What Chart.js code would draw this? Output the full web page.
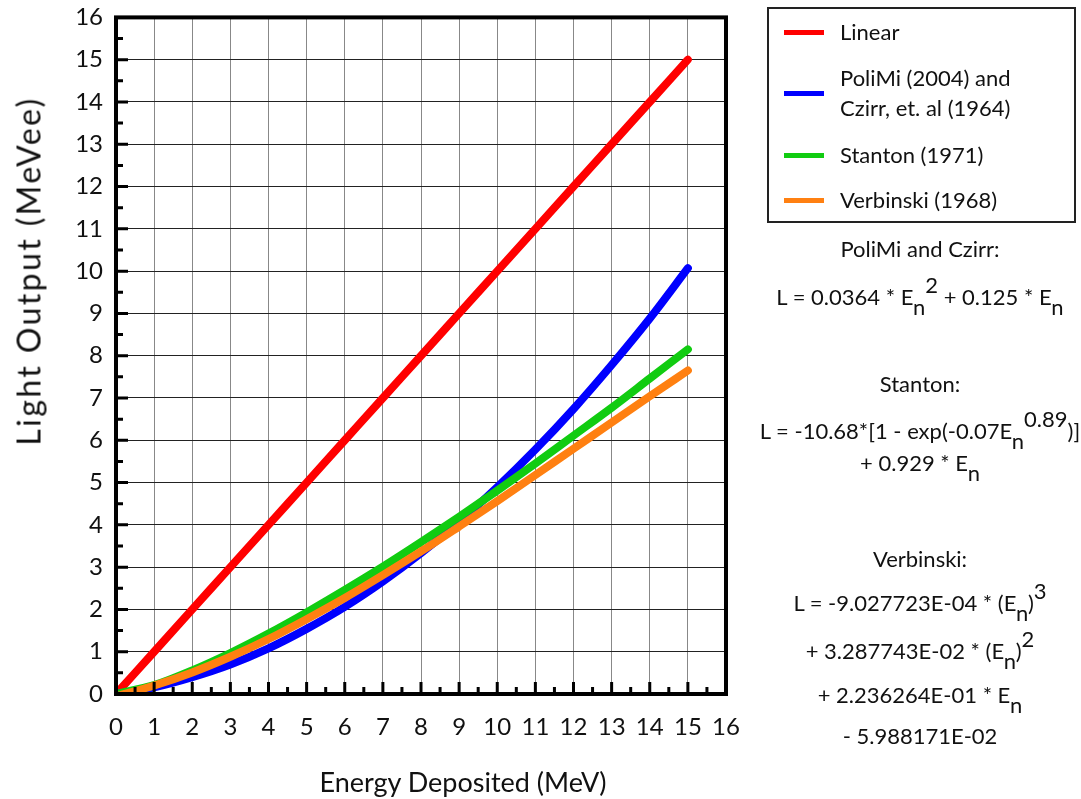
<!DOCTYPE html>
<html>
<head>
<meta charset="utf-8">
<script src="https://cdn.jsdelivr.net/npm/chart.js@4.4.0/dist/chart.umd.min.js"></script>
<style>
  body { margin:0; background:#fff; font-family: Lato, "Open Sans", sans-serif; color:#111; }
  #wrap { position:relative; width:1081px; height:799px; overflow:hidden; }
  #myChart { position:absolute; left:0; top:-10px; }
  #ytitle { position:absolute; left:28px; top:271px; transform:translate(-50%,-50%) rotate(-90deg); font-size:32px; letter-spacing:2.4px; white-space:nowrap; }
  #xtitle { position:absolute; left:463px; top:781px; transform:translate(-50%,-50%); font-size:27px; white-space:nowrap; }
  #legend { position:absolute; left:767px; top:7px; width:309px; height:216px; border:2px solid #222; box-sizing:border-box; }
  .item { position:absolute; left:15px; font-size:22px; line-height:30px; }
  .item i { position:absolute; left:0; width:40px; height:5px; }
  .item span { position:absolute; left:56px; white-space:nowrap; }
  .eq { position:absolute; left:920px; transform:translate(-50%,-50%); font-size:22px; white-space:nowrap; }
  .eq sub { position:relative; top:10px; vertical-align:baseline; font-size:22px; }
  .eq sup { position:relative; top:-12px; vertical-align:baseline; font-size:22px; }
</style>
</head>
<body>
<div id="wrap">
  <canvas id="myChart" width="1081" height="799"></canvas>
  <div id="ytitle">Light Output (MeVee)</div>
  <div id="xtitle">Energy Deposited (MeV)</div>
  <div id="legend"></div>

  <div class="eq" style="top:248px">PoliMi and Czirr:</div>
  <div class="eq" style="top:296px">L = 0.0364 * E<sub>n</sub><sup>2</sup> + 0.125 * E<sub>n</sub></div>

  <div class="eq" style="top:383px">Stanton:</div>
  <div class="eq" style="top:430px">L = -10.68*[1 - exp(-0.07E<sub>n</sub><sup>0.89</sup>)]</div>
  <div class="eq" style="top:462px">+ 0.929 * E<sub>n</sub></div>

  <div class="eq" style="top:558px">Verbinski:</div>
  <div class="eq" style="top:602px">L = -9.027723E-04 * (E<sub>n</sub>)<sup>3</sup></div>
  <div class="eq" style="top:650px">+ 3.287743E-02 * (E<sub>n</sub>)<sup>2</sup></div>
  <div class="eq" style="top:694px">+ 2.236264E-01 * E<sub>n</sub></div>
  <div class="eq" style="top:735px">- 5.988171E-02</div>
</div>

<script>
// energy deposited (MeV)
const energy = [0,1,2,3,4,5,6,7,8,9,10,11,12,13,14,15];
// light output (MeVee) for each response model
const linear = [0,1,2,3,4,5,6,7,8,9,10,11,12,13,14,15];
const polimi = [0,0.16,0.40,0.70,1.08,1.54,2.06,2.66,3.33,4.07,4.89,5.78,6.74,7.78,8.88,10.07];
const stanton = [0,0.21,0.56,0.97,1.43,1.93,2.46,3.01,3.59,4.19,4.81,5.45,6.11,6.77,7.46,8.15];
const verbinski = [-0.06,0.20,0.51,0.88,1.30,1.77,2.27,2.81,3.37,3.96,4.56,5.18,5.80,6.42,7.04,7.65];

const xTicks = [0,1,2,3,4,5,6,7,8,9,10,11,12,13,14,15,16];
const yTicks = [0,1,2,3,4,5,6,7,8,9,10,11,12,13,14,15,16];

const seriesNames = ['Linear', 'PoliMi (2004) and\nCzirr, et. al (1964)', 'Stanton (1971)', 'Verbinski (1968)'];
const seriesColors = ['#ff0000', '#0000ff', '#11cc11', '#ff8011'];

function pts(ys){
    return energy.map((x,i) => ({x:x, y:ys[i]}));
}

// inward tick marks plus the heavy frame around the plot
const frame = {
    id:'frame',
    afterDatasetsDraw(chart){
        const ctx = chart.ctx;
        const a = chart.chartArea;
        const xs = chart.scales.x, ys = chart.scales.y;
        ctx.save();
        ctx.strokeStyle = '#000';
        ctx.lineWidth = 3;
        ctx.beginPath();
        for (let v = 0.5; v < 16; v += 0.5) {
            const len = Number.isInteger(v) ? 12 : 7;
            const px = xs.getPixelForValue(v);
            ctx.moveTo(px, a.bottom); ctx.lineTo(px, a.bottom - len);
            const py = ys.getPixelForValue(v);
            ctx.moveTo(a.left, py); ctx.lineTo(a.left + len, py);
        }
        ctx.stroke();
        ctx.lineWidth = 4;
        ctx.strokeRect(a.left, a.top, a.right - a.left, a.bottom - a.top);
        ctx.restore();
    }
};

const datasets = [linear, polimi, stanton, verbinski].map((vals, i) => ({
    label: seriesNames[i],
    data: pts(vals),
    showLine: true,
    borderColor: seriesColors[i],
    backgroundColor: seriesColors[i],
    borderWidth: 8,
    borderCapStyle: 'round',
    pointRadius: 0,
    cubicInterpolationMode: 'monotone',
    order: [3, 2, 1, 0][i],
}));

var ctx = document.getElementById('myChart');
var myChart = new Chart(ctx, {
    type: 'scatter',
    data: { datasets: datasets },
    options: {
        responsive: false,
        animation: false,
        layout: { padding: { top: 4, right: 355, left: 0, bottom: 0 } },
        plugins: { legend: { display: false }, tooltip: { enabled: false } },
        scales: {
            x: {
                type: 'linear', min: 0, max: 16,
                afterFit(s){ s.height = 95; },
                afterBuildTicks(s){ s.ticks = xTicks.map(v => ({value: v})); },
                grid: { color: '#888', lineWidth: 1, drawTicks: false },
                border: { display: false },
                ticks: { color: '#111', padding: 19, font: { family: 'Lato', size: 24 }, maxRotation: 0, autoSkip: false }
            },
            y: {
                type: 'linear', min: 0, max: 16,
                afterFit(s){ s.width = 116; },
                afterBuildTicks(s){ s.ticks = yTicks.map(v => ({value: v})); },
                grid: { color: '#222', lineWidth: 1, drawTicks: false },
                border: { display: false },
                ticks: { color: '#111', padding: 13, font: { family: 'Lato', size: 24 }, autoSkip: false }
            }
        }
    },
    plugins: [frame]
});

// legend box built from the same series
const legendTops = [8, 54, 131, 176];
const legendBox = document.getElementById('legend');
seriesNames.forEach((name, i) => {
    const lines = name.split('\n');
    const row = document.createElement('div');
    row.className = 'item';
    row.style.top = legendTops[i] + 'px';
    row.style.height = (lines.length * 30) + 'px';
    const sw = document.createElement('i');
    sw.style.background = seriesColors[i];
    sw.style.top = (lines.length * 15 - 2) + 'px';
    row.appendChild(sw);
    lines.forEach((t, k) => {
        const sp = document.createElement('span');
        sp.textContent = t;
        sp.style.top = (k * 30) + 'px';
        row.appendChild(sp);
    });
    legendBox.appendChild(row);
});
</script>
</body>
</html>
